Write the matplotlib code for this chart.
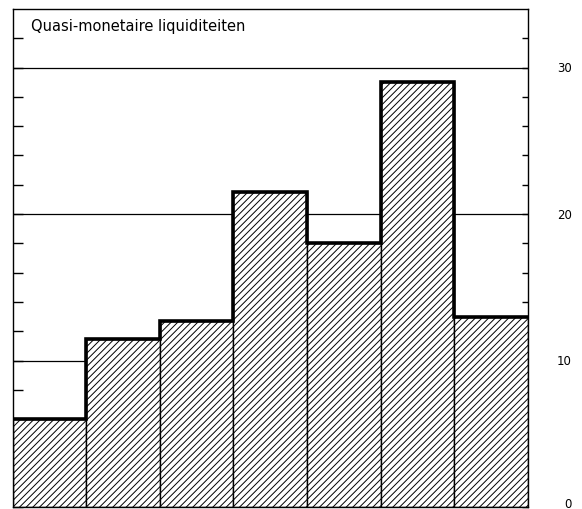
import matplotlib
matplotlib.use("Agg")
import matplotlib.pyplot as plt
import numpy as np

title = "Quasi-monetaire liquiditeiten"
values = [6.0, 11.5, 12.7, 21.5, 18.0, 29.0, 13.0]
yticks_major = [0, 10, 20, 30]
ytick_labels = ["0", "10", "20", "30"]

plt.rcParams['hatch.linewidth'] = 0.7
fig = plt.figure(figsize=(5.82, 5.10), dpi=100)
ax = fig.add_axes([0.0218, 0.0039, 0.9846 - 0.0218 - 0.078, 0.9804 - 0.0039])

n = len(values)
edges = np.arange(n + 1)
ax.set_xlim(0, n)
ax.set_ylim(0, 34)

for y in yticks_major[1:]:
    ax.axhline(y, color='black', lw=0.9, zorder=1)

ax.bar(np.arange(n) + 0.5, values, width=1.0, facecolor='white', edgecolor='black',
       linewidth=1.0, hatch='/////', zorder=2)
ax.stairs(values, edges, baseline=None, color='black', linewidth=2.6, zorder=3)

for s in ax.spines.values():
    s.set_linewidth(1.0)
    s.set_zorder(4)

ax.set_xticks([])
minor = np.arange(0, 34, 2)
ax.set_yticks(minor)
ax.set_yticklabels([])
ax.tick_params(axis='y', which='major', direction='in', left=True, right=True,
               length=7, width=1.0, labelleft=False, labelright=False)
for t in ax.yaxis.get_major_ticks():
    t.tick2line.set_markersize(4)

for v, lab in zip(yticks_major, ytick_labels):
    dy = 4 if v == 0 else 0
    ax.annotate(lab, xy=(1, v), xycoords=('axes fraction', 'data'),
                xytext=(44, dy), textcoords='offset pixels',
                ha='right', va='center', fontsize=8.5, annotation_clip=False)

ax.text(0.035, 0.967, title, transform=ax.transAxes, ha='left', va='center',
        fontsize=10.5)

fig.savefig("out.png", dpi=100)
